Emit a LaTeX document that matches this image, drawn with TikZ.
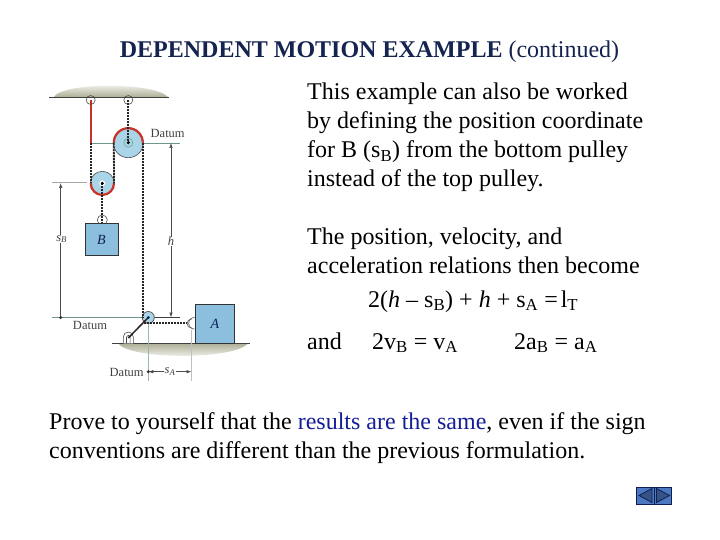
\documentclass[tikz,border=0pt]{standalone}
\usepackage{fontspec}
\setmainfont{Liberation Serif}
\usepackage{tikz}
\usetikzlibrary{arrows.meta}
\definecolor{pulleyblue}{RGB}{170,212,232}
\definecolor{boxblue}{RGB}{140,190,222}
\definecolor{ropered}{RGB}{200,50,40}
\definecolor{shadeolive}{RGB}{175,175,150}
\definecolor{datumgreen}{RGB}{110,150,140}
\definecolor{navblue}{RGB}{75,120,190}
\definecolor{navdark}{RGB}{15,30,85}
\definecolor{textblue}{RGB}{20,30,150}
\definecolor{titlenavy}{RGB}{20,35,80}
\tikzset{
  body/.style={anchor=base west,inner sep=0pt,font=\fontsize{24}{28}\selectfont},
  figlabel/.style={inner sep=0pt,text=black!75,font=\fontsize{12.5}{14}\selectfont},
  rope/.style={line width=1.8pt,dash pattern=on 2.2pt off .8pt,black!85},
  redrope/.style={line width=2.2pt,ropered},
  datumline/.style={line width=.6pt,datumgreen},
  dimline/.style={line width=.6pt,black!70,-{Latex[length=5pt,width=3.5pt]}},
  pinloop/.style={line width=.6pt,black!70},
  block/.style={draw=black!80,line width=1pt,fill=boxblue,inner sep=0pt,text=navdark,font=\fontsize{14}{16}\selectfont\itshape,minimum width=#1}
}
\begin{document}
\begin{tikzpicture}[x=1pt,y=-1pt]
\useasboundingbox (0,0) rectangle (720,540);
% text
\node[anchor=base,inner sep=0pt,text=titlenavy,font=\fontsize{24}{28}\selectfont] (title) at (369.5,58) {\textbf{DEPENDENT MOTION EXAMPLE} (continued)};
\node[body] (t1) at (307,100) {This example can also be worked};
\node[body] (t2) at (307,129) {by defining the position coordinate};
\node[body] (t3) at (307,158) {for B (s\textsubscript{B}) from the bottom pulley};
\node[body] (t4) at (307,187) {instead of the top pulley.};
\node[body] (t5) at (307,244) {The position, velocity, and};
\node[body] (t6) at (307,273) {acceleration relations then become};
\node[body] (eq1) at (368,307) {2(\textit{h} -- s\textsubscript{B}) + \textit{h} + s\textsubscript{A} =\hspace{3pt}l\textsubscript{T}};
\node[body] (and) at (307,349) {and};
\node[body] (eq2) at (372,349) {2v\textsubscript{B} = v\textsubscript{A}};
\node[body] (eq3) at (514,349) {2a\textsubscript{B} = a\textsubscript{A}};
\node[body] (t7) at (49,429) {Prove to yourself that the \textcolor{textblue}{results are the same}, even if the sign};
\node[body] (t8) at (49,458) {conventions are different than the previous formulation.};
% ceiling and ground
\shade[top color=white,bottom color=shadeolive] (54,97) .. controls (62,82) and (155,82) .. (168,97) -- cycle;
\draw[line width=.7pt,black!75] (49,97) -- (169,97);
\shade[top color=shadeolive,bottom color=white] (118,343.3) .. controls (130,360) and (235,360) .. (248,343.3) -- cycle;
\draw[line width=.7pt,black!75] (111.7,343.3) -- (250,343.3);
% points
\coordinate (pinL) at (90.7,100);
\coordinate (pinR) at (128.3,100);
\coordinate (big) at (128.3,142.7);
\coordinate (small) at (102.3,183.3);
\coordinate (low) at (148.3,317.5);
\coordinate (bigL) at (113.8,142.7);
\coordinate (bigR) at (142.8,142.7);
\coordinate (smallL) at (90.7,183.3);
\coordinate (smallR) at (114,183.3);
\coordinate (lowT) at (142.8,317.5);
\coordinate (lowS) at (144,323.3);
\coordinate (pinA) at (187,323.3);
\coordinate (base) at (128.3,338);
\coordinate (redL) at (90.7,143);
% datum lines
\coordinate (dBigL) at (92,143);
\coordinate (dBigR) at (180,143);
\coordinate (dBL) at (52,182.5);
\coordinate (dBR) at (87,182.5);
\coordinate (dLowL) at (52,317.5);
\coordinate (dLowR) at (180,317.5);
\coordinate (dAT) at (148.3,317.5);
\coordinate (dAB) at (148.3,381);
\coordinate (eAT) at (191.7,330);
\coordinate (eAB) at (191.7,381);
\draw[datumline] (dBigL) -- (dBigR);
\draw[line width=.5pt,black!35] (dBL) -- (dBR);
\draw[datumline] (dLowL) -- (low);
\draw[line width=.8pt,black!75] (low) -- (dLowR);
\draw[line width=.5pt,datumgreen!70] (dAT) -- (dAB);
\draw[line width=.5pt,black!25] (eAT) -- (eAB);
% pulleys
\draw[line width=.6pt,black!70,fill=pulleyblue] (big) circle (15pt);
\draw[line width=.6pt,black!70,fill=pulleyblue] (small) circle (12pt);
\draw[line width=.7pt,black!70,fill=pulleyblue] (low) circle (6pt);
\draw[line width=.5pt,datumgreen] (big) circle (4.5pt);
\fill[white] (small) circle (3pt);
% red rope on the pulleys
\draw[redrope] (pinL) -- (redL);
\draw[redrope] (bigL) arc[start angle=180,end angle=0,radius=14.5pt];
\draw[redrope] (smallL) arc[start angle=180,end angle=360,radius=11.65pt];
\draw[line width=1.6pt,ropered] (143.5,320.5) -- (146,323.3);
% pins
\foreach \px/\py in {90.7/100,128.3/100}
\draw[pinloop] (\px,\py) circle (4.5pt);
\draw[pinloop] (102.3,220) circle (5pt);
\node[block=33pt,minimum height=32pt] (B) at (101.5,239.7) {B};
\node[block=39.4pt,minimum height=39.3pt] (A) at (215,323.7) {A};
\draw[pinloop] (191.5,319) arc[start angle=90,end angle=270,radius=4.5pt];
\draw[pinloop] (194.5,317.5) arc[start angle=90,end angle=270,radius=5.8pt];
\draw[pinloop,fill=white] (123.3,343.3) -- (123.3,337) arc[start angle=180,end angle=0,radius=5pt] -- (133.3,343.3);
\draw[pinloop] (126.5,343.3) -- (126.5,337) arc[start angle=180,end angle=0,radius=1.8pt] -- (130.1,343.3);
% ropes
\draw[rope] (pinR) -- (big);
\draw[rope] (small) -- (B.north -| small);
\draw[rope] (redL) -- (smallL);
\draw[rope] (bigL) -- (smallR);
\draw[rope] (bigR) -- (lowT);
\draw[rope] (lowS) -- (pinA);
\draw[line width=1.5pt,black!85] (low) -- (base);
\fill[black] (big) circle (1.7pt);
\fill[black] (small) circle (1.7pt);
\fill[navdark] (low) circle (1.5pt);
% dimensions
\node[figlabel] (datum1) at (167.7,133) {Datum};
\node[figlabel] (datum2) at (90,325) {Datum};
\node[figlabel] (datum3) at (126.7,372) {Datum};
\node[figlabel,font=\fontsize{12.5}{14}\selectfont\itshape] (h) at (171,241.5) {h};
\node[figlabel] (sB) at (61.7,239) {\textit{s\textsubscript{B}}};
\node[figlabel] (sA) at (170,371.7) {\textit{s\textsubscript{A}}};
\coordinate (hT) at (170.3,143);
\coordinate (hB) at (170.3,317.5);
\coordinate (sBT) at (60.7,183);
\coordinate (sBB) at (60.7,317.5);
\coordinate (dotA) at (148.3,371.7);
\coordinate (endA) at (191.5,371.7);
\draw[dimline] (h.north) -- (h.north |- hT);
\draw[dimline] (h.south) -- (h.south |- hB);
\draw[dimline] (sB.north -| sBT) -- (sBT);
\draw[line width=.6pt,black!70] (sB.south -| sBB) -- (sBB);
\draw[dimline] (sA.west) -- (dotA);
\draw[dimline] (sA.east) -- (endA);
\fill[black!80] (sBB) circle (1.7pt);
\fill[black!80] (dotA) circle (1.7pt);
% nav buttons
\node[draw=navdark,line width=1pt,fill=navblue,minimum width=17.5pt,minimum height=17pt,inner sep=0pt] (navL) at (645.5,495.5) {};
\node[draw=navdark,line width=1pt,fill=navblue,minimum width=17.5pt,minimum height=17pt,inner sep=0pt] (navR) at (663,495.5) {};
\draw[line width=.8pt,navdark,fill=navblue!70!black] (652,488.5) -- (652,502.5) -- (639,495.5) -- cycle;
\draw[line width=.8pt,navdark,fill=navblue!70!black] (656.5,488.5) -- (656.5,502.5) -- (669.5,495.5) -- cycle;
\end{tikzpicture}
\end{document}
